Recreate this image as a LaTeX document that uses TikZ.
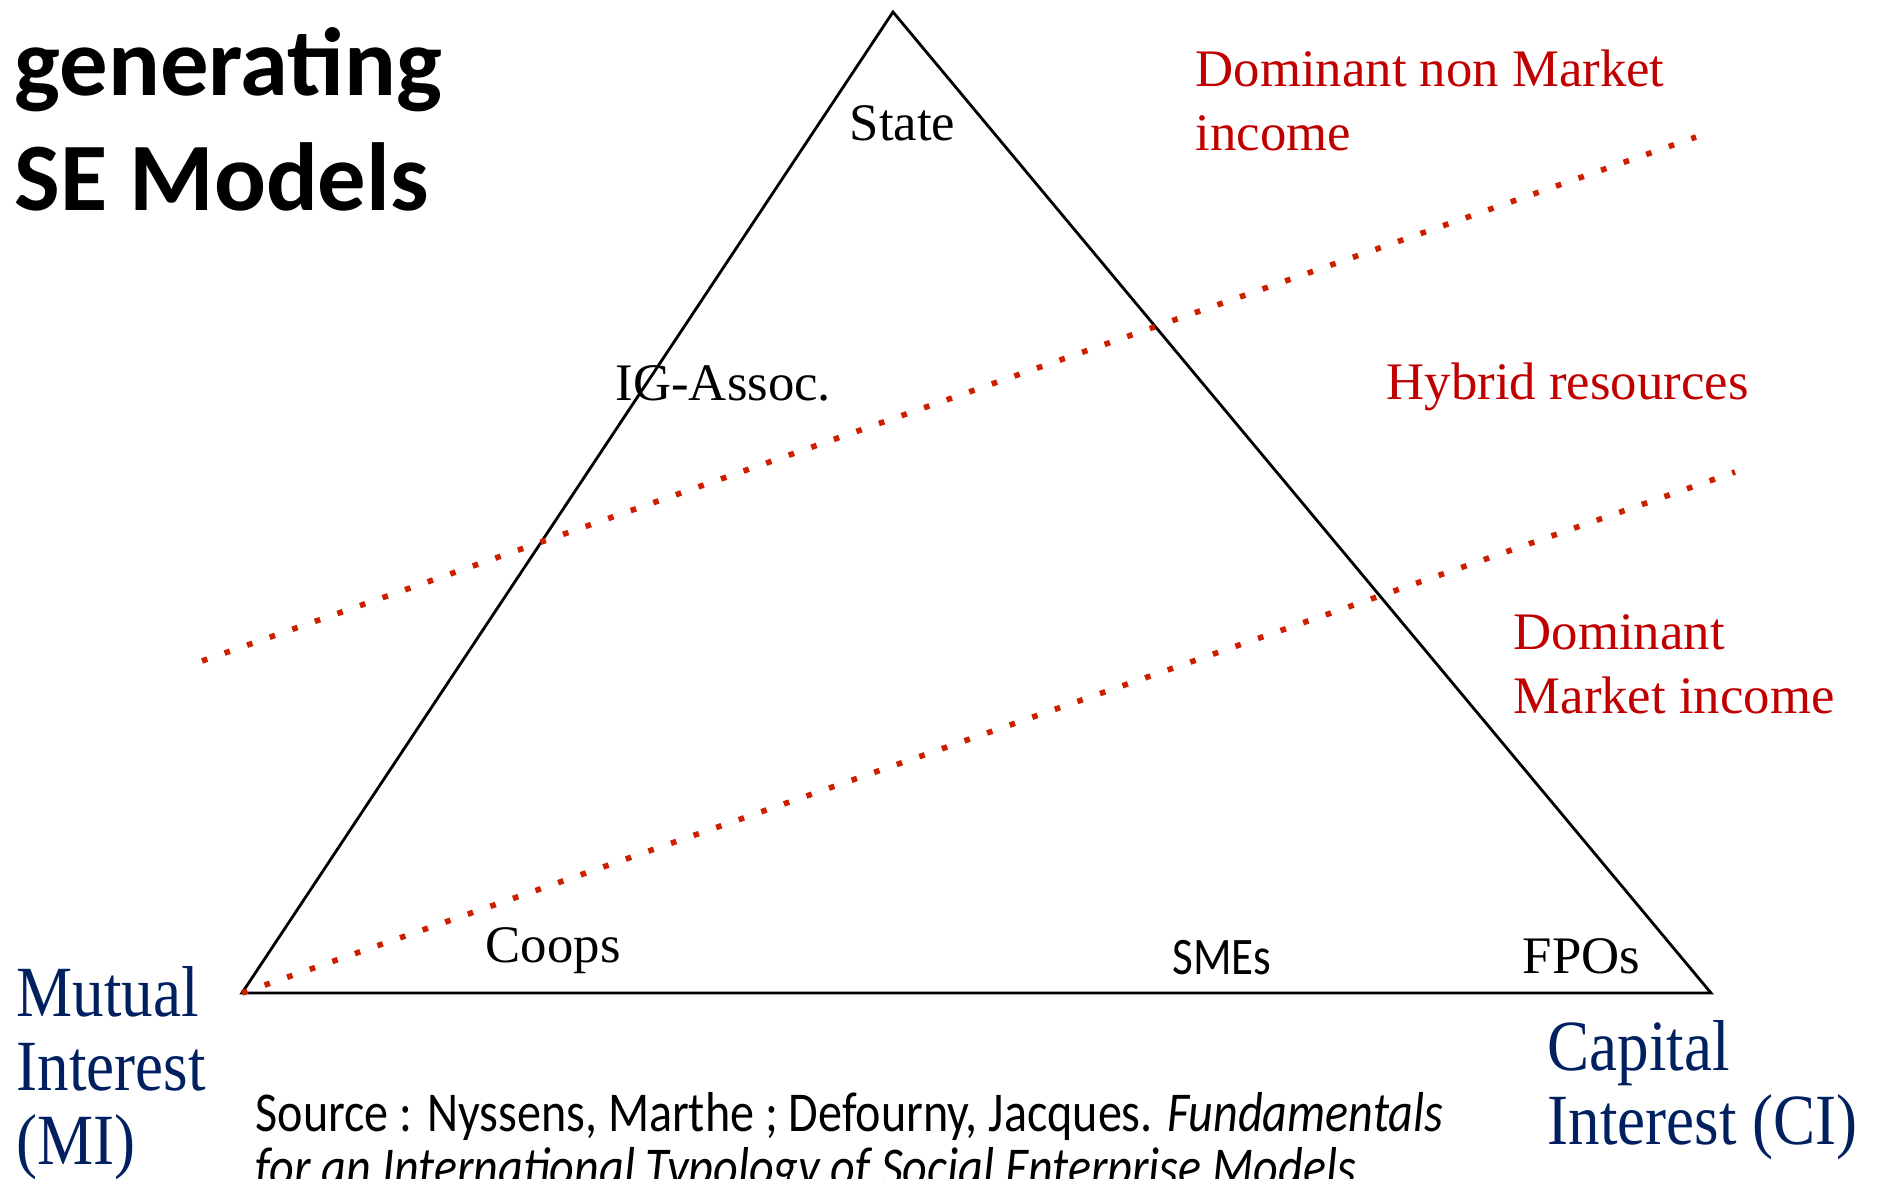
\documentclass[tikz,border=0pt]{standalone}
\usepackage{fontspec}
\setmainfont{Liberation Serif}
\newfontfamily\calib{Carlito}
\newfontfamily\calibn[FakeStretch=0.855]{Carlito}
\newfontfamily\timesn[FakeStretch=0.875]{Liberation Serif}
\definecolor{rouge}{RGB}{192,0,0}
\definecolor{pointille}{RGB}{206,30,0}
\definecolor{bleu}{RGB}{0,32,96}
\tikzset{
    punkt/.style={
           inner sep=0pt,
           anchor=base west,
           font=\fontsize{15}{18}\selectfont},
    punktsm/.style={
           punkt,
           font=\calibn\fontsize{15}{18}\selectfont},
    punktre/.style={
           punkt,
           text=rouge,
           align=left,
           font=\fontsize{15}{18.2}\selectfont},
    punktbl/.style={
           punkt,
           text=bleu,
           align=left,
           font=\timesn\fontsize{20.5}{21}\selectfont},
    titre/.style={
           punkt,
           align=left,
           font=\calib\bfseries\fontsize{27.5}{32.7}\selectfont},
    source/.style={
           punkt,
           align=left,
           font=\calibn\fontsize{16}{15.4}\selectfont},
    seuil/.style={
           draw=pointille,
           line width=1.6pt,
           dash pattern=on 1.6pt off 5.2pt}
    }
\begin{document}
\begin{tikzpicture}[x=0.01cm,y=-0.01cm]
      \useasboundingbox (0,0) rectangle (1879,1179);
      \clip (0,0) rectangle (1879,1179);
      % triangle
      \coordinate (a) at (893,12);
      \coordinate (b) at (242,993);
      \coordinate (c) at (1711,993);
      \draw[black,line width=0.8pt,line join=miter] (a) -- (b) -- (c) -- cycle;
      % seuils de ressources
      \coordinate (d) at (202,661);
      \coordinate (e) at (1696,137);
      \coordinate (f) at (1735,472);
      \draw[seuil] (d) -- (e);
      \draw[seuil] (b) -- (f);
      % multi-line nodes: base = last line
      \node[titre] (0) at (14,210) {generating\\SE Models};
      \node[punkt] (1) at (849,140) {State};
      \node[punkt] (2) at (615,400) {IG-Assoc.};
      \node[punkt] (3) at (485,962) {Coops};
      \node[punktsm] (4) at (1172,974) {SMEs};
      \node[punkt] (5) at (1522,973) {FPOs};
      \node[punktre] (6) at (1195,151) {Dominant non Market\\income};
      \node[punktre] (7) at (1386,399) {Hybrid resources};
      \node[punktre] (8) at (1513,713) {Dominant\\Market income};
      \node[punktbl] (9) at (16,1164) {Mutual\\Interest\\(MI)};
      \node[punktbl] (10) at (1547,1144) {Capital\\Interest (CI)};
      \node[source] (11) at (255,1186) {Source : Nyssens, Marthe ; Defourny, Jacques. \textit{Fundamentals}\\\textit{for an International Typology of Social Enterprise Models}};
\end{tikzpicture}
\end{document}
